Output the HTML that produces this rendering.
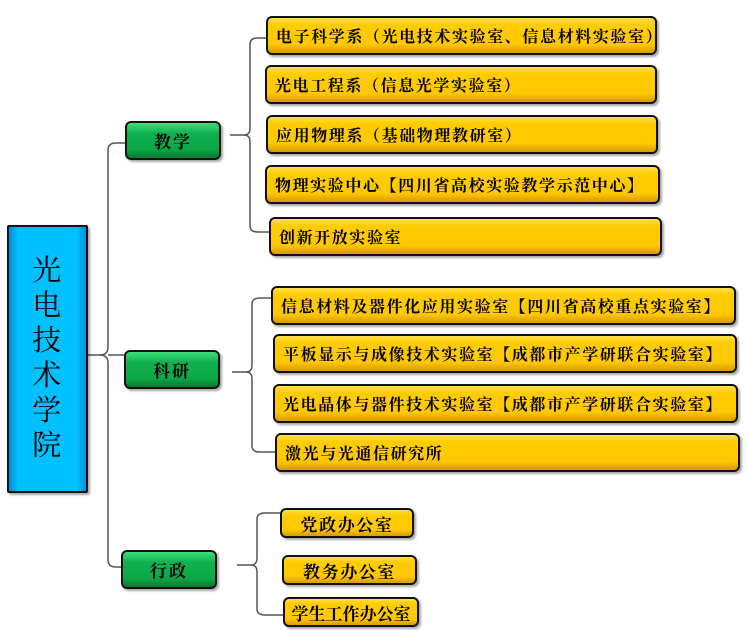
<!DOCTYPE html>
<html><head><meta charset="utf-8"><style>
body{margin:0;width:747px;height:630px;background:#fff;position:relative;overflow:hidden;font-family:"Liberation Serif","Noto Serif CJK SC","Noto Sans CJK SC",serif;}
.b{position:absolute;box-sizing:border-box;border:2px solid #111;border-radius:6px;font-weight:bold;font-size:16px;letter-spacing:1.6px;color:#000;display:flex;align-items:center;box-shadow:2px 2px 2px rgba(0,0,0,.35);white-space:nowrap}
.y{background:linear-gradient(#ffe04a 0%,#ffcc00 20%,#ffc800 75%,#d99a00 100%);padding-left:8px;}
.g{background:linear-gradient(#3ee07a 0%,#10b050 30%,#0ca848 75%,#067a30 100%);justify-content:center;letter-spacing:2px;font-size:17px}
.c{justify-content:center;padding-left:0;font-size:17px}
</style></head><body>
<svg width="747" height="630" style="position:absolute;left:0;top:0">
<g fill="none" stroke="#555" stroke-width="1.5">
<path d="M87 355 H100 Q108 355 108 347 V150 Q108 143 116 143 H125"/>
<path d="M100 355 Q108 355 108 363 V560 Q108 567 116 567 H121"/>
<path d="M108 355 H124"/>
<path d="M230 135 H244 Q250 135 250 128 V44 Q250 38 258 38 H266"/>
<path d="M244 135 Q250 135 250 142 V226 Q250 232 258 232 H269"/>
<path d="M232 372 H246 Q252 372 252 365 V304 Q252 298 260 298 H271"/>
<path d="M246 372 Q252 372 252 379 V446 Q252 452 260 452 H275"/>
<path d="M237 565 H251 Q257 565 257 558 V519 Q257 513 265 513 H280"/>
<path d="M251 565 Q257 565 257 572 V609 Q257 615 265 615 H283"/>
</g></svg>
<div class="b" style="left:7px;top:225px;width:81px;height:268px;border-radius:2px;background:linear-gradient(90deg,#0090d0,#00c0ff 12%,#00c0ff 88%,#0090d0);justify-content:center;font-weight:normal;font-size:29px;line-height:35px;text-align:center;white-space:normal;padding:0 24px">光电技术学院</div>
<div class="b g" style="left:125px;top:121px;width:96px;height:39px">教学</div>
<div class="b g" style="left:124px;top:350px;width:96px;height:39px">科研</div>
<div class="b g" style="left:121px;top:550px;width:96px;height:39px">行政</div>
<div class="b y" style="left:266px;top:16px;width:391px;height:39px">电子科学系（光电技术实验室、信息材料实验室）</div>
<div class="b y" style="left:265px;top:65px;width:392px;height:39px">光电工程系（信息光学实验室）</div>
<div class="b y" style="left:266px;top:115px;width:392px;height:39px">应用物理系（基础物理教研室）</div>
<div class="b y" style="left:265px;top:165px;width:395px;height:39px">物理实验中心【四川省高校实验教学示范中心】</div>
<div class="b y" style="left:269px;top:217px;width:393px;height:39px">创新开放实验室</div>
<div class="b y" style="left:271px;top:286px;width:465px;height:39px">信息材料及器件化应用实验室【四川省高校重点实验室】</div>
<div class="b y" style="left:273px;top:334px;width:464px;height:39px">平板显示与成像技术实验室【成都市产学研联合实验室】</div>
<div class="b y" style="left:273px;top:384px;width:465px;height:39px">光电晶体与器件技术实验室【成都市产学研联合实验室】</div>
<div class="b y" style="left:275px;top:433px;width:465px;height:39px">激光与光通信研究所</div>
<div class="b y c" style="left:280px;top:508px;width:134px;height:30px">党政办公室</div>
<div class="b y c" style="left:282px;top:555px;width:135px;height:30px">教务办公室</div>
<div class="b y c" style="left:283px;top:597px;width:136px;height:30px;letter-spacing:0">学生工作办公室</div>
</body></html>
